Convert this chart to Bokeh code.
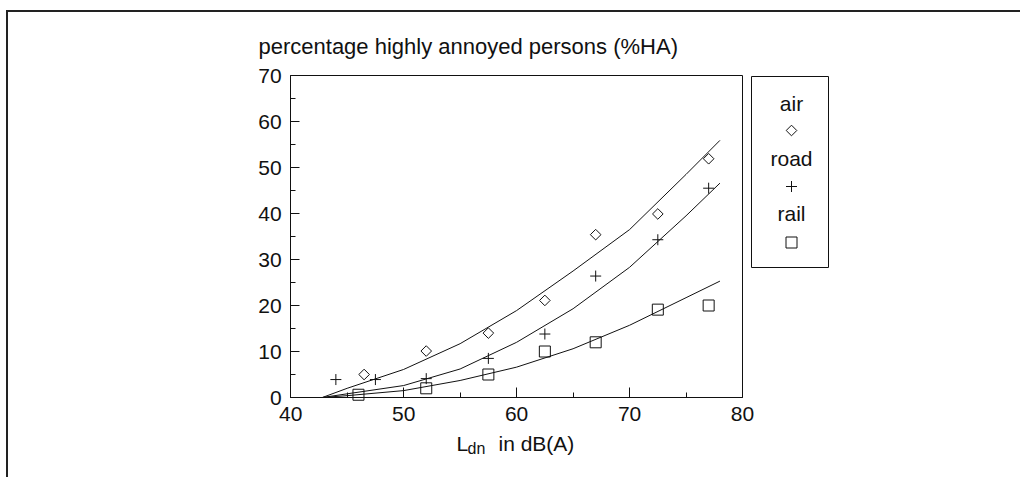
from bokeh.plotting import figure
from bokeh.models import (Range1d, LinearAxis, SingleIntervalTicker, FixedTicker, Label)
from bokeh.embed import file_html
from bokeh.resources import INLINE

# ---------------- data ----------------
air_L = [46.5, 52.0, 57.5, 62.5, 67.0, 72.5, 77.0]
air_HA = [5.0, 10.1, 14.0, 21.1, 35.4, 39.9, 51.9]

road_L = [44.0, 47.5, 52.0, 57.5, 62.5, 67.0, 72.5, 77.0]
road_HA = [3.9, 3.9, 4.1, 8.5, 13.8, 26.4, 34.3, 45.5]

rail_L = [46.0, 52.0, 57.5, 62.5, 67.0, 72.5, 77.0]
rail_HA = [0.6, 2.0, 5.0, 10.0, 12.0, 19.1, 20.0]

curve_L = [42.8, 45, 50, 55, 60, 65, 70, 75, 78]
air_curve = [0, 2.0, 6.1, 11.7, 18.9, 27.5, 36.5, 48.5, 55.9]
road_curve = [0, 0.8, 2.6, 6.2, 12.0, 19.3, 28.3, 39.5, 46.6]
rail_curve = [0, 0.4, 1.5, 3.7, 6.6, 10.6, 15.7, 21.7, 25.3]

x_bounds = (40, 80)
y_bounds = (0, 70)

series_names = ["air", "road", "rail"]
title_text = "percentage highly annoyed persons (%HA)"
xlabel_main = "L"
xlabel_sub = "dn"
xlabel_rest = "in dB(A)"

# ---------------- styling / layout ----------------
FONT = "Liberation Sans"
INK = "#111111"

FRAME_W, FRAME_H = 610, 437
BORDER_L, BORDER_T = 237, 17
TOTAL_W, TOTAL_H = 1012, 465
DY = -9  # baseline correction for Label text

p = figure(frame_width=FRAME_W, frame_height=FRAME_H,
           x_range=Range1d(36, 90), y_range=Range1d(-15, 80),
           output_backend="svg", toolbar_location=None,
           x_axis_location=None, y_axis_location=None,
           min_border_left=BORDER_L, min_border_right=TOTAL_W - BORDER_L - FRAME_W,
           min_border_top=BORDER_T, min_border_bottom=TOTAL_H - BORDER_T - FRAME_H,
           background_fill_color="white", border_fill_color="white")
p.outline_line_color = None
p.xgrid.visible = False
p.ygrid.visible = False
p.styles = {"border-top": "2px solid #222", "border-left": "2px solid #222",
            "margin-top": "10px", "margin-left": "6px"}

# page-pixel helper ranges for layout-only elements (legend, labels)
p.extra_x_ranges = {"px": Range1d(245, 245 + FRAME_W)}
p.extra_y_ranges = {"py": Range1d(29 + FRAME_H, 29)}

common_axis = dict(axis_line_color=INK, axis_line_width=1,
                   major_tick_line_color=INK, minor_tick_line_color=INK,
                   major_tick_out=0, minor_tick_out=0,
                   major_label_text_font=FONT, major_label_text_font_size="21px",
                   major_label_text_color=INK)

xaxis = LinearAxis(ticker=SingleIntervalTicker(interval=10, num_minor_ticks=2),
                   bounds=x_bounds, fixed_location=y_bounds[0],
                   major_tick_in=10, minor_tick_in=5,
                   major_label_standoff=9, **common_axis)
p.add_layout(xaxis, "below")

yaxis = LinearAxis(ticker=SingleIntervalTicker(interval=10, num_minor_ticks=2),
                   bounds=y_bounds, fixed_location=x_bounds[0],
                   major_tick_in=9, minor_tick_in=5,
                   major_label_standoff=9, **common_axis)
p.add_layout(yaxis, "left")

no_ticks = dict(axis_line_color=INK, axis_line_width=1,
                major_tick_in=0, major_tick_out=0,
                minor_tick_in=0, minor_tick_out=0,
                major_label_text_font_size="0px")
top_axis = LinearAxis(ticker=FixedTicker(ticks=[], minor_ticks=[]),
                      bounds=x_bounds, fixed_location=y_bounds[1], **no_ticks)
p.add_layout(top_axis, "above")
right_axis = LinearAxis(ticker=FixedTicker(ticks=[], minor_ticks=[]),
                        bounds=y_bounds, fixed_location=x_bounds[1], **no_ticks)
p.add_layout(right_axis, "right")

# ---------------- curves ----------------
for ys in (air_curve, road_curve, rail_curve):
    p.line(curve_L, ys, line_color=INK, line_width=1)

# ---------------- points ----------------
p.scatter(air_L, air_HA, marker="square", angle=0.785398, size=7.5,
          fill_color=None, line_color=INK, line_width=1)
p.scatter(road_L, road_HA, marker="cross", size=11,
          line_color=INK, line_width=1)
p.scatter(rail_L, rail_HA, marker="square", size=11,
          fill_color=None, line_color=INK, line_width=1)

# ---------------- legend (page-pixel ranges) ----------------
p.quad(left=[751], right=[828], bottom=[267], top=[76],
       x_range_name="px", y_range_name="py",
       fill_color=None, line_color=INK, line_width=1)
leg_x = 791
for name, yb in zip(series_names, [111.5, 166.5, 222]):
    p.add_layout(Label(x=leg_x, y=yb + DY, x_range_name="px", y_range_name="py",
                       text=name, text_align="center", text_baseline="alphabetic",
                       text_font=FONT, text_font_size="21px", text_color=INK))
p.scatter([leg_x], [130], marker="square", angle=0.785398, size=7.5,
          x_range_name="px", y_range_name="py",
          fill_color=None, line_color=INK, line_width=1)
p.scatter([leg_x], [186], marker="cross", size=11,
          x_range_name="px", y_range_name="py", line_color=INK, line_width=1)
p.scatter([leg_x], [242], marker="square", size=11,
          x_range_name="px", y_range_name="py",
          fill_color=None, line_color=INK, line_width=1)

# ---------------- title & x label ----------------
p.add_layout(Label(x=258, y=55 + DY, x_range_name="px", y_range_name="py",
                   text=title_text, text_align="left", text_baseline="alphabetic",
                   text_font=FONT, text_font_size="22px", text_color=INK))
p.add_layout(Label(x=456, y=452 + DY, x_range_name="px", y_range_name="py",
                   text=xlabel_main, text_align="left", text_baseline="alphabetic",
                   text_font=FONT, text_font_size="21px", text_color=INK))
p.add_layout(Label(x=467, y=457 + DY, x_range_name="px", y_range_name="py",
                   text=xlabel_sub, text_align="left", text_baseline="alphabetic",
                   text_font=FONT, text_font_size="16px", text_color=INK))
p.add_layout(Label(x=498, y=452 + DY, x_range_name="px", y_range_name="py",
                   text=xlabel_rest, text_align="left", text_baseline="alphabetic",
                   text_font=FONT, text_font_size="21px", text_color=INK))

open("out.html", "w").write(file_html(p, INLINE))
